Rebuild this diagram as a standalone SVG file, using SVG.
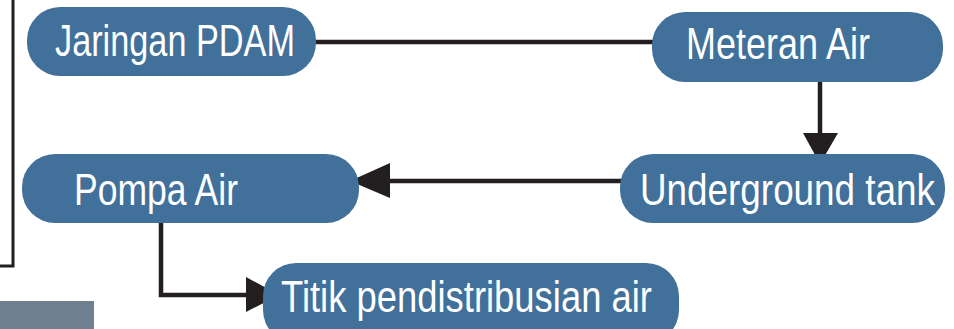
<svg xmlns="http://www.w3.org/2000/svg" width="954" height="329" viewBox="0 0 954 329">
<defs>
<style>
.node{fill:#41709a;}
.lbl{fill:#ffffff;font-family:"Liberation Sans Narrow","Liberation Sans",sans-serif;font-stretch:condensed;font-size:44px;}
.conn{stroke:#231f20;stroke-width:4.5;fill:none;}
.head{fill:#231f20;}
</style>
</defs>
<rect x="0" y="0" width="954" height="329" fill="#ffffff"/>
<path d="M13 0 V266 H0" stroke="#231f20" stroke-width="3" fill="none"/>
<rect x="0" y="301" width="94" height="28" fill="#6e7f90"/>
<g id="connectors">
<line class="conn" x1="316" y1="42" x2="654" y2="42"/>
<line class="conn" x1="820" y1="80" x2="820" y2="136"/>
<polygon class="head" points="803,133 838,133 820,164"/>
<line class="conn" x1="622" y1="181" x2="386" y2="181"/>
<polygon class="head" points="390,163 390,198 350,181"/>
<path class="conn" d="M161 221 V295 H250"/>
<polygon class="head" points="246,277 246,312 279,295"/>
</g>
<g id="jaringan">
<rect class="node" x="27" y="7" width="289" height="69" rx="33"/>
<text class="lbl" x="55" y="56" textLength="240" lengthAdjust="spacingAndGlyphs">Jaringan PDAM</text>
</g>
<g id="meteran">
<rect class="node" x="652" y="12" width="291" height="70" rx="33"/>
<text class="lbl" x="686" y="59" textLength="184" lengthAdjust="spacingAndGlyphs">Meteran Air</text>
</g>
<g id="underground">
<rect class="node" x="620" y="154" width="325" height="69" rx="33"/>
<text class="lbl" x="640" y="205" textLength="295" lengthAdjust="spacingAndGlyphs">Underground tank</text>
</g>
<g id="pompa">
<rect class="node" x="22" y="154" width="337" height="69" rx="33"/>
<text class="lbl" x="74" y="205" textLength="164" lengthAdjust="spacingAndGlyphs">Pompa Air</text>
</g>
<g id="titik">
<rect class="node" x="263" y="263" width="416" height="80" rx="33"/>
<text class="lbl" x="281" y="312" textLength="371" lengthAdjust="spacingAndGlyphs">Titik pendistribusian air</text>
</g>
</svg>
